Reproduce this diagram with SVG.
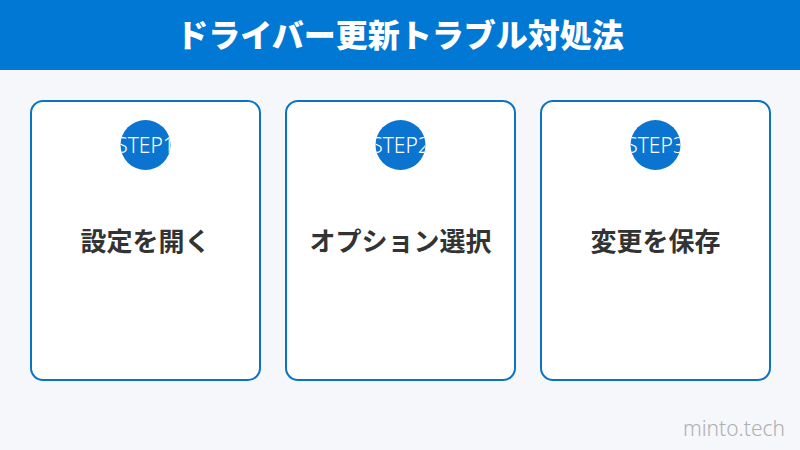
<svg xmlns="http://www.w3.org/2000/svg" width="800" height="450" viewBox="0 0 800 450">
<defs>
<style>
.card{fill:#ffffff;stroke:#0a74c4;stroke-width:2}
.badge{fill:#0a74d0}
.step{font-family:"Noto Sans","Liberation Sans",sans-serif;font-size:21px;font-weight:300;fill:#ffffff;text-anchor:middle}
.label{font-family:"Noto Sans CJK JP","Noto Sans",sans-serif;font-size:26px;font-weight:bold;fill:#333333;text-anchor:middle}
.title{font-family:"Noto Sans CJK JP","Noto Sans",sans-serif;font-size:32px;font-weight:900;fill:#ffffff;text-anchor:middle}
</style>
<clipPath id="c1"><circle cx="145.5" cy="145" r="25"/></clipPath>
<clipPath id="c2"><circle cx="400.5" cy="145" r="25"/></clipPath>
<clipPath id="c3"><circle cx="655.5" cy="145" r="25"/></clipPath>
</defs>
<rect width="800" height="450" fill="#f5f7fa"/>
<g id="header">
<rect x="0" y="0" width="800" height="70" fill="#0078d4"/>
<text class="title" x="400" y="47">ドライバー更新トラブル対処法</text>
</g>
<g id="connectors"></g>
<g id="step1">
<rect class="card" x="31" y="101" width="229" height="279" rx="12"/>
<circle class="badge" cx="145.5" cy="145" r="25"/>
<text class="step" x="145.5" y="153" clip-path="url(#c1)">STEP1</text>
<text class="label" x="145.5" y="251">設定を開く</text>
</g>
<g id="step2">
<rect class="card" x="286" y="101" width="229" height="279" rx="12"/>
<circle class="badge" cx="400.5" cy="145" r="25"/>
<text class="step" x="400.5" y="153" clip-path="url(#c2)">STEP2</text>
<text class="label" x="400.5" y="251">オプション選択</text>
</g>
<g id="step3">
<rect class="card" x="541" y="101" width="229" height="279" rx="12"/>
<circle class="badge" cx="655.5" cy="145" r="25"/>
<text class="step" x="655.5" y="153" clip-path="url(#c3)">STEP3</text>
<text class="label" x="655.5" y="251">変更を保存</text>
</g>
<text x="785" y="436" font-family="'Noto Sans','Liberation Sans',sans-serif" font-size="21" font-weight="300" fill="#b0b0b0" text-anchor="end">minto.tech</text>
</svg>
